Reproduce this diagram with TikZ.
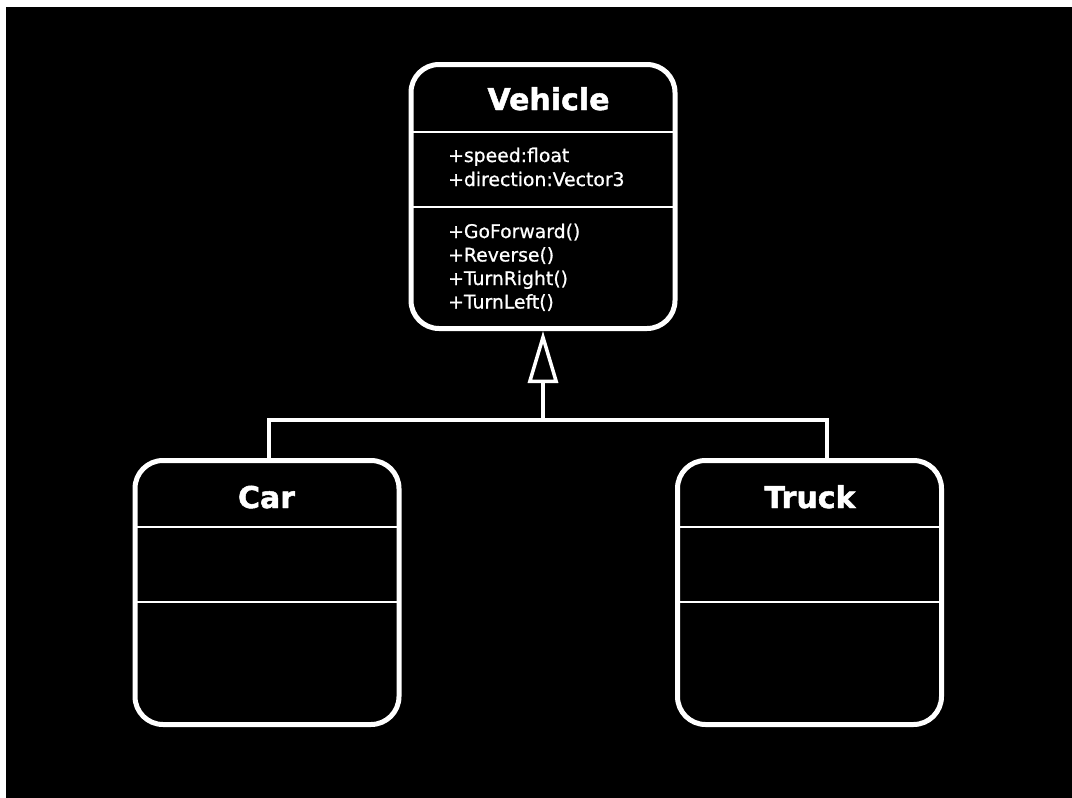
\documentclass[tikz,border=0pt]{standalone}
\usepackage{fontspec}
\setmainfont{DejaVu Sans}
\newfontfamily\titlefont[FakeBold=1.6]{DejaVu Sans Bold}
\newfontfamily\bodyfont[FakeBold=0.8]{DejaVu Sans}
\usetikzlibrary{arrows.meta}
\begin{document}
\begin{tikzpicture}[x=1pt,y=-1pt,
  classbox/.style={draw=white, line width=5pt, rounded corners=28pt,
    minimum width=264pt, minimum height=264pt, inner sep=0pt},
  sep/.style={draw=white, line width=2.2pt},
  conn/.style={draw=white, line width=4pt},
  title/.style={text=white, font=\fontsize{30}{36}\titlefont, inner sep=0pt, anchor=base},
  body/.style={text=white, font=\fontsize{18.8}{22}\bodyfont, inner sep=0pt, anchor=base west}]
\fill[white] (0,0) rectangle (1072,798);
\fill[black] (6,7) rectangle (1072,798);
% class boxes
\node[classbox] (veh) at (543,196.5) {};
\node[classbox] (car) at (267,592.5) {};
\node[classbox] (truck) at (809.5,592.5) {};
% separators
\draw[sep] (409,132) -- (677,132);
\draw[sep] (409,207) -- (677,207);
\draw[sep] (133,527) -- (401,527);
\draw[sep] (133,602) -- (401,602);
\draw[sep] (675.5,527) -- (943.5,527);
\draw[sep] (675.5,602) -- (943.5,602);
% texts
\node[title] (vt) at (548.5,110) {Vehicle};
\node[title] (ct) at (266.5,508) {Car};
\node[title] (tt) at (810,508) {Truck};
\node[body] (a1) at (448,162) {+speed:float};
\node[body] (a2) at (448,186) {+direction:Vector3};
\node[body] (m1) at (448,238) {+GoForward()};
\node[body] (m2) at (448,261.5) {+Reverse()};
\node[body] (m3) at (448,285) {+TurnRight()};
\node[body] (m4) at (448,308.5) {+TurnLeft()};
% connectors
\coordinate (j) at (543,420);
\coordinate (cn) at ([xshift=2pt]car.north);
\coordinate (tn) at ([xshift=17.5pt]truck.north);
\draw[conn] (cn) -- (cn |- j) -- (tn |- j) -- (tn);
\draw[conn, line width=3.5pt, -{Triangle[open, width=30pt, length=52pt]}] (j) -- (veh.south);
\end{tikzpicture}
\end{document}
